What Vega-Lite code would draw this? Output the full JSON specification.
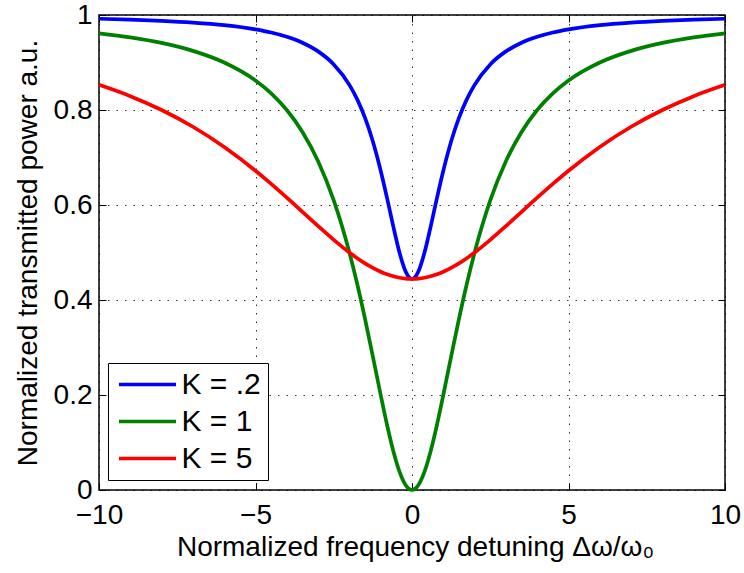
{
  "$schema": "https://vega.github.io/schema/vega-lite/v6.json",
  "width": 626,
  "height": 475,
  "autosize": {"type": "none"},
  "padding": {"left": 99, "top": 15, "right": 19, "bottom": 83},
  "background": "white",
  "config": {
    "font": "Liberation Sans",
    "view": {"stroke": "black", "strokeWidth": 1.5},
    "axis": {
      "labelFont": "Liberation Sans",
      "titleFont": "Liberation Sans",
      "labelFontSize": 28,
      "titleFontSize": 28,
      "labelColor": "black",
      "titleColor": "black",
      "titleFontWeight": "normal",
      "tickColor": "black",
      "tickSize": -7,
      "tickWidth": 1,
      "domain": false,
      "gridColor": "#000000",
      "gridDash": [1.5, 7],
      "gridOpacity": 0.8,
      "gridWidth": 1,
      "labelFlush": false,
      "labelOverlap": false,
      "labelBound": false
    }
  },
  "data": {
    "values": [
      {"K": "K = .2", "x": -10, "T": 0.9921},
      {"K": "K = .2", "x": -9, "T": 0.9903},
      {"K": "K = .2", "x": -8, "T": 0.9878},
      {"K": "K = .2", "x": -7, "T": 0.9841},
      {"K": "K = .2", "x": -6, "T": 0.9786},
      {"K": "K = .2", "x": -5, "T": 0.9697},
      {"K": "K = .2", "x": -4.5, "T": 0.9631},
      {"K": "K = .2", "x": -4, "T": 0.9541},
      {"K": "K = .2", "x": -3.5, "T": 0.9416},
      {"K": "K = .2", "x": -3, "T": 0.9234},
      {"K": "K = .2", "x": -2.5, "T": 0.896},
      {"K": "K = .2", "x": -2, "T": 0.8529},
      {"K": "K = .2", "x": -1.75, "T": 0.8223},
      {"K": "K = .2", "x": -1.5, "T": 0.7832},
      {"K": "K = .2", "x": -1.25, "T": 0.7336},
      {"K": "K = .2", "x": -1, "T": 0.6721},
      {"K": "K = .2", "x": -0.8, "T": 0.6154},
      {"K": "K = .2", "x": -0.6, "T": 0.5556},
      {"K": "K = .2", "x": -0.4, "T": 0.5},
      {"K": "K = .2", "x": -0.2, "T": 0.4594},
      {"K": "K = .2", "x": -0.1, "T": 0.4483},
      {"K": "K = .2", "x": 0, "T": 0.4444},
      {"K": "K = .2", "x": 0.1, "T": 0.4483},
      {"K": "K = .2", "x": 0.2, "T": 0.4594},
      {"K": "K = .2", "x": 0.4, "T": 0.5},
      {"K": "K = .2", "x": 0.6, "T": 0.5556},
      {"K": "K = .2", "x": 0.8, "T": 0.6154},
      {"K": "K = .2", "x": 1, "T": 0.6721},
      {"K": "K = .2", "x": 1.25, "T": 0.7336},
      {"K": "K = .2", "x": 1.5, "T": 0.7832},
      {"K": "K = .2", "x": 1.75, "T": 0.8223},
      {"K": "K = .2", "x": 2, "T": 0.8529},
      {"K": "K = .2", "x": 2.5, "T": 0.896},
      {"K": "K = .2", "x": 3, "T": 0.9234},
      {"K": "K = .2", "x": 3.5, "T": 0.9416},
      {"K": "K = .2", "x": 4, "T": 0.9541},
      {"K": "K = .2", "x": 4.5, "T": 0.9631},
      {"K": "K = .2", "x": 5, "T": 0.9697},
      {"K": "K = .2", "x": 6, "T": 0.9786},
      {"K": "K = .2", "x": 7, "T": 0.9841},
      {"K": "K = .2", "x": 8, "T": 0.9878},
      {"K": "K = .2", "x": 9, "T": 0.9903},
      {"K": "K = .2", "x": 10, "T": 0.9921},
      {"K": "K = 1", "x": -10, "T": 0.9615},
      {"K": "K = 1", "x": -9, "T": 0.9529},
      {"K": "K = 1", "x": -8, "T": 0.9412},
      {"K": "K = 1", "x": -7, "T": 0.9245},
      {"K": "K = 1", "x": -6, "T": 0.9},
      {"K": "K = 1", "x": -5, "T": 0.8621},
      {"K": "K = 1", "x": -4.5, "T": 0.835},
      {"K": "K = 1", "x": -4, "T": 0.8},
      {"K": "K = 1", "x": -3.5, "T": 0.7538},
      {"K": "K = 1", "x": -3, "T": 0.6923},
      {"K": "K = 1", "x": -2.5, "T": 0.6098},
      {"K": "K = 1", "x": -2, "T": 0.5},
      {"K": "K = 1", "x": -1.75, "T": 0.4336},
      {"K": "K = 1", "x": -1.5, "T": 0.36},
      {"K": "K = 1", "x": -1.25, "T": 0.2809},
      {"K": "K = 1", "x": -1, "T": 0.2},
      {"K": "K = 1", "x": -0.8, "T": 0.1379},
      {"K": "K = 1", "x": -0.6, "T": 0.0826},
      {"K": "K = 1", "x": -0.4, "T": 0.0385},
      {"K": "K = 1", "x": -0.2, "T": 0.0099},
      {"K": "K = 1", "x": -0.1, "T": 0.0025},
      {"K": "K = 1", "x": 0, "T": 0},
      {"K": "K = 1", "x": 0.1, "T": 0.0025},
      {"K": "K = 1", "x": 0.2, "T": 0.0099},
      {"K": "K = 1", "x": 0.4, "T": 0.0385},
      {"K": "K = 1", "x": 0.6, "T": 0.0826},
      {"K": "K = 1", "x": 0.8, "T": 0.1379},
      {"K": "K = 1", "x": 1, "T": 0.2},
      {"K": "K = 1", "x": 1.25, "T": 0.2809},
      {"K": "K = 1", "x": 1.5, "T": 0.36},
      {"K": "K = 1", "x": 1.75, "T": 0.4336},
      {"K": "K = 1", "x": 2, "T": 0.5},
      {"K": "K = 1", "x": 2.5, "T": 0.6098},
      {"K": "K = 1", "x": 3, "T": 0.6923},
      {"K": "K = 1", "x": 3.5, "T": 0.7538},
      {"K": "K = 1", "x": 4, "T": 0.8},
      {"K": "K = 1", "x": 4.5, "T": 0.835},
      {"K": "K = 1", "x": 5, "T": 0.8621},
      {"K": "K = 1", "x": 6, "T": 0.9},
      {"K": "K = 1", "x": 7, "T": 0.9245},
      {"K": "K = 1", "x": 8, "T": 0.9412},
      {"K": "K = 1", "x": 9, "T": 0.9529},
      {"K": "K = 1", "x": 10, "T": 0.9615},
      {"K": "K = 5", "x": -10, "T": 0.8529},
      {"K": "K = 5", "x": -9, "T": 0.8291},
      {"K": "K = 5", "x": -8, "T": 0.8},
      {"K": "K = 5", "x": -7, "T": 0.7647},
      {"K": "K = 5", "x": -6, "T": 0.7222},
      {"K": "K = 5", "x": -5, "T": 0.6721},
      {"K": "K = 5", "x": -4.5, "T": 0.6444},
      {"K": "K = 5", "x": -4, "T": 0.6154},
      {"K": "K = 5", "x": -3.5, "T": 0.5855},
      {"K": "K = 5", "x": -3, "T": 0.5556},
      {"K": "K = 5", "x": -2.5, "T": 0.5266},
      {"K": "K = 5", "x": -2, "T": 0.5},
      {"K": "K = 5", "x": -1.75, "T": 0.488},
      {"K": "K = 5", "x": -1.5, "T": 0.4771},
      {"K": "K = 5", "x": -1.25, "T": 0.4676},
      {"K": "K = 5", "x": -1, "T": 0.4595},
      {"K": "K = 5", "x": -0.8, "T": 0.4541},
      {"K": "K = 5", "x": -0.6, "T": 0.4499},
      {"K": "K = 5", "x": -0.4, "T": 0.4469},
      {"K": "K = 5", "x": -0.2, "T": 0.4451},
      {"K": "K = 5", "x": -0.1, "T": 0.4446},
      {"K": "K = 5", "x": 0, "T": 0.4444},
      {"K": "K = 5", "x": 0.1, "T": 0.4446},
      {"K": "K = 5", "x": 0.2, "T": 0.4451},
      {"K": "K = 5", "x": 0.4, "T": 0.4469},
      {"K": "K = 5", "x": 0.6, "T": 0.4499},
      {"K": "K = 5", "x": 0.8, "T": 0.4541},
      {"K": "K = 5", "x": 1, "T": 0.4595},
      {"K": "K = 5", "x": 1.25, "T": 0.4676},
      {"K": "K = 5", "x": 1.5, "T": 0.4771},
      {"K": "K = 5", "x": 1.75, "T": 0.488},
      {"K": "K = 5", "x": 2, "T": 0.5},
      {"K": "K = 5", "x": 2.5, "T": 0.5266},
      {"K": "K = 5", "x": 3, "T": 0.5556},
      {"K": "K = 5", "x": 3.5, "T": 0.5855},
      {"K": "K = 5", "x": 4, "T": 0.6154},
      {"K": "K = 5", "x": 4.5, "T": 0.6444},
      {"K": "K = 5", "x": 5, "T": 0.6721},
      {"K": "K = 5", "x": 6, "T": 0.7222},
      {"K": "K = 5", "x": 7, "T": 0.7647},
      {"K": "K = 5", "x": 8, "T": 0.8},
      {"K": "K = 5", "x": 9, "T": 0.8291},
      {"K": "K = 5", "x": 10, "T": 0.8529}
    ]
  },
  "layer": [
    {
      "mark": {"type": "line", "strokeWidth": 3.7, "interpolate": "monotone"},
      "encoding": {
        "x": {
          "field": "x",
          "type": "quantitative",
          "scale": {"domain": [-10, 10], "nice": false, "zero": false},
          "axis": {
            "orient": "bottom",
            "values": [-10, -5, 0, 5, 10],
            "title": "Normalized frequency detuning Δω/ω₀",
            "labelPadding": 40,
            "labelBaseline": "alphabetic",
            "titleBaseline": "alphabetic",
            "titleY": 65,
            "titleX": 316,
            "grid": true
          }
        },
        "y": {
          "field": "T",
          "type": "quantitative",
          "scale": {"domain": [0, 1], "nice": false, "zero": false},
          "axis": {
            "orient": "left",
            "values": [0, 0.2, 0.4, 0.6, 0.8, 1],
            "format": "~g",
            "title": "Normalized transmitted power a.u.",
            "labelPadding": 14,
            "titleAngle": 270,
            "titleBaseline": "alphabetic",
            "titleX": -63,
            "titleY": 237.5,
            "grid": true
          }
        },
        "color": {
          "field": "K",
          "type": "nominal",
          "scale": {"domain": ["K = .2", "K = 1", "K = 5"], "range": ["#0000ff", "#008000", "#ff0000"]},
          "legend": {
            "title": null,
            "orient": "none",
            "legendX": 9,
            "legendY": 348,
            "direction": "vertical",
            "labelFont": "Liberation Sans",
            "labelFontSize": 30,
            "labelColor": "black",
            "labelLimit": 300,
            "symbolType": "M-4,0H4",
            "symbolSize": 203,
            "symbolStrokeWidth": 3.7,
            "symbolFillColor": "transparent",
            "strokeColor": "black",
            "fillColor": "white",
            "padding": 6.5,
            "rowPadding": 7,
            "symbolOffset": 18,
            "labelOffset": 19
          }
        }
      }
    },
    {
      "mark": {"type": "point", "opacity": 0},
      "encoding": {
        "x": {
          "field": "x",
          "type": "quantitative",
          "axis": {"orient": "top", "values": [-10, -5, 0, 5, 10], "labels": false, "title": null, "grid": false}
        },
        "y": {
          "field": "T",
          "type": "quantitative",
          "axis": {"orient": "right", "values": [0, 0.2, 0.4, 0.6, 0.8, 1], "labels": false, "title": null, "grid": false}
        }
      }
    }
  ],
  "resolve": {"axis": {"x": "independent", "y": "independent"}}
}
